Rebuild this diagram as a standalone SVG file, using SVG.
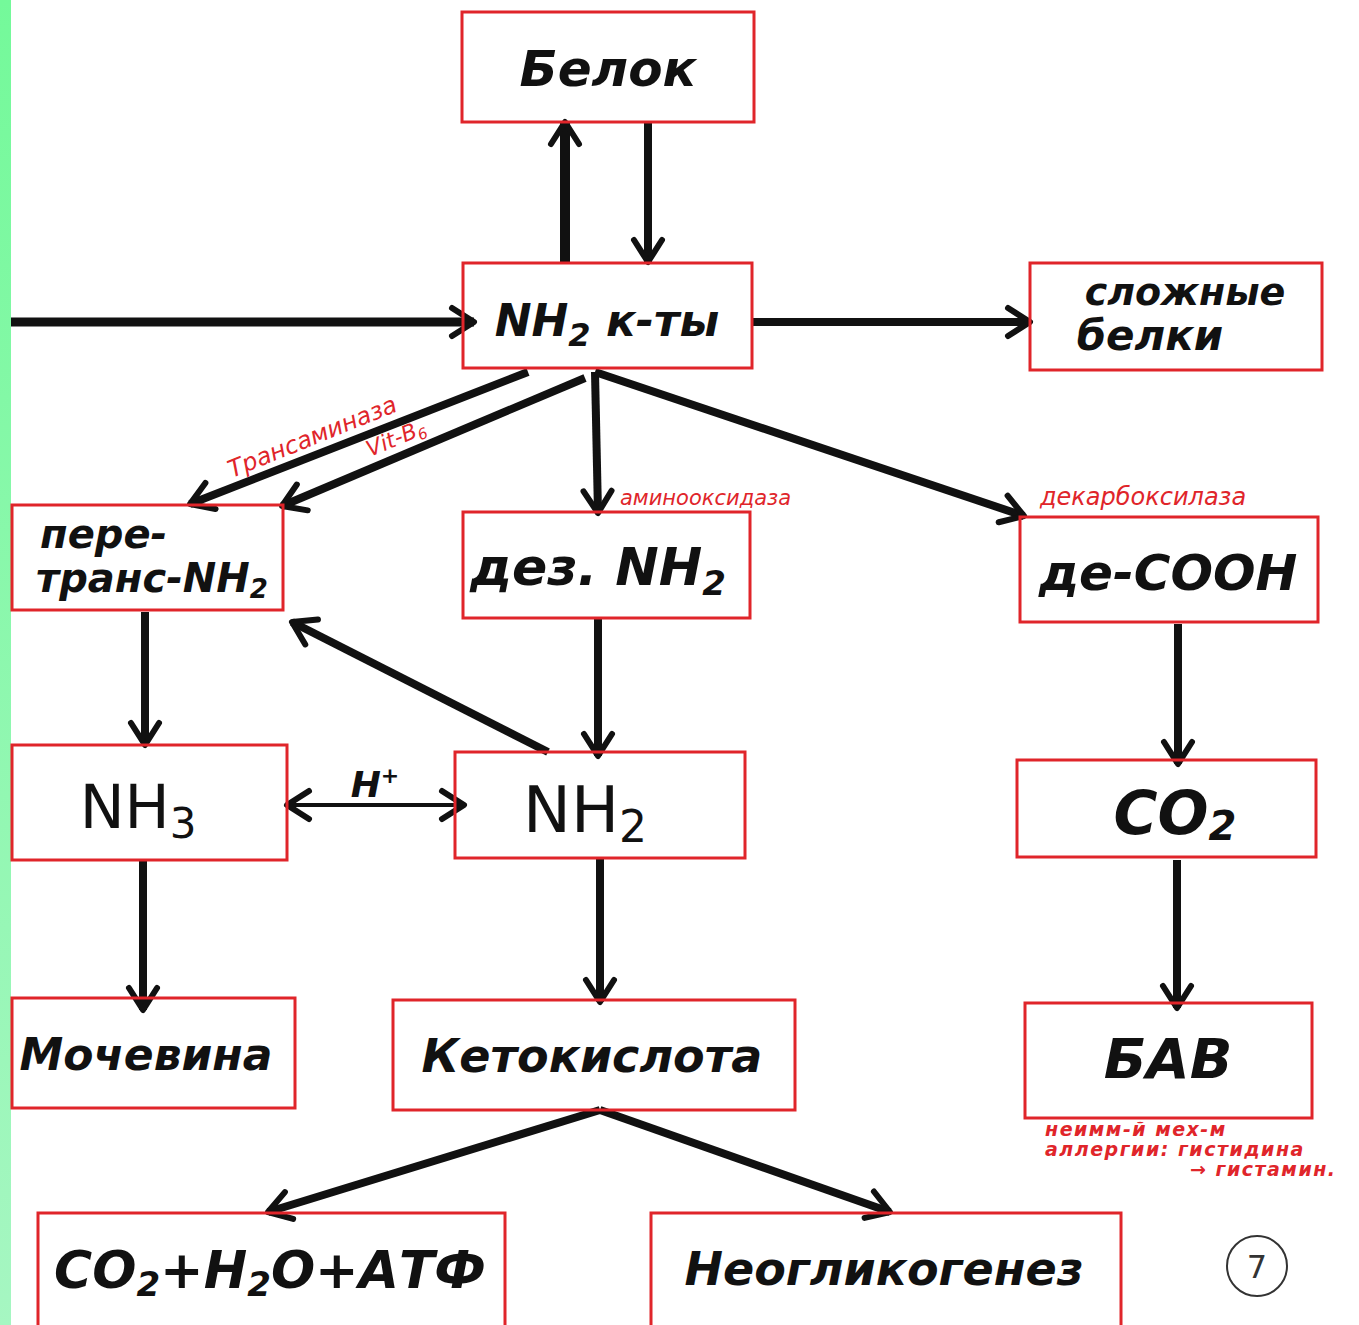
<svg xmlns="http://www.w3.org/2000/svg" width="1359" height="1325" viewBox="0 0 1359 1325">
<defs>
<linearGradient id="g" x1="0" y1="0" x2="0" y2="1"><stop offset="0" stop-color="#74f99a"/><stop offset="1" stop-color="#a6f6c2"/></linearGradient>
<marker id="ah" markerUnits="userSpaceOnUse" markerWidth="40" markerHeight="40" refX="30" refY="20" orient="auto-start-reverse" viewBox="0 0 40 40">
<path d="M8,6 L30,20 L8,34" fill="none" stroke="#111" stroke-width="6" stroke-linecap="round" stroke-linejoin="round"/>
</marker>
<style>
.box{fill:none;stroke:#e0252a;stroke-width:3}
.lbl{font-family:"DejaVu Sans",sans-serif;font-style:italic;font-weight:bold;fill:#111}
.arr{stroke:#111;stroke-width:8;fill:none;marker-end:url(#ah)}
.red{font-family:"DejaVu Sans",sans-serif;font-style:italic;fill:#e0252a}
</style>
</defs>
<rect width="1359" height="1325" fill="#fff"/>
<rect x="0" y="0" width="11" height="1325" fill="url(#g)"/>

<g id="connectors">
<line class="arr" x1="565" y1="262" x2="565" y2="122" style="stroke-width:10"/>
<line class="arr" x1="648" y1="122" x2="648" y2="262"/>
<line class="arr" x1="11" y1="322" x2="474" y2="322" style="stroke-width:9"/>
<line class="arr" x1="752" y1="322" x2="1030" y2="322"/>
<line class="arr" x1="528" y1="372" x2="190" y2="504"/>
<line class="arr" x1="585" y1="378" x2="282" y2="506"/>
<line class="arr" x1="595" y1="372" x2="598" y2="513"/>
<line class="arr" x1="595" y1="372" x2="1024" y2="516"/>
<line class="arr" x1="145" y1="612" x2="145" y2="745"/>
<line class="arr" x1="598" y1="618" x2="598" y2="756"/>
<line class="arr" x1="548" y1="752" x2="292" y2="622"/>
<line class="arr" x1="287" y1="805" x2="464" y2="805" style="stroke-width:4;marker-start:url(#ah)"/>
<line class="arr" x1="1178" y1="624" x2="1178" y2="764"/>
<line class="arr" x1="143" y1="860" x2="143" y2="1010"/>
<line class="arr" x1="600" y1="858" x2="600" y2="1002"/>
<line class="arr" x1="1177" y1="860" x2="1177" y2="1008"/>
<line class="arr" x1="600" y1="1110" x2="268" y2="1212"/>
<line class="arr" x1="600" y1="1110" x2="890" y2="1212"/>
<text class="lbl" x="375" y="797" font-size="36" text-anchor="middle">H<tspan font-size="22" dy="-14">+</tspan></text>
<text class="red" font-size="24" transform="translate(232,478) rotate(-22)">Трансаминаза</text>
<text class="red" font-size="22" transform="translate(370,457) rotate(-22.5)">Vit-B<tspan font-size="15" dy="4">6</tspan></text>
<text class="red" x="620" y="505" font-size="21">аминооксидаза</text>
<text class="red" x="1040" y="505" font-size="24">декарбоксилаза</text>
</g>

<g id="n-belok"><rect class="box" x="462" y="12" width="292" height="110"/><text class="lbl" x="608" y="86" font-size="50" text-anchor="middle">Белок</text></g>
<g id="n-amino"><rect class="box" x="463" y="263" width="289" height="105"/><text class="lbl" x="607" y="336" font-size="44" text-anchor="middle">NH<tspan font-size="32" dy="10">2</tspan><tspan dy="-10"> к-ты</tspan></text></g>
<g id="n-slozh"><rect class="box" x="1030" y="263" width="292" height="107"/><text class="lbl" x="1185" y="305" font-size="38" text-anchor="middle">сложные</text><text class="lbl" x="1150" y="350" font-size="42" text-anchor="middle">белки</text></g>
<g id="n-pere"><rect class="box" x="12" y="505" width="271" height="105"/><text class="lbl" x="40" y="548" font-size="40">пере-</text><text class="lbl" x="36" y="592" font-size="40">транс-NH<tspan font-size="26" dy="6">2</tspan></text></g>
<g id="n-dez"><rect class="box" x="463" y="512" width="287" height="106"/><text class="lbl" x="598" y="585" font-size="52" text-anchor="middle">дез. NH<tspan font-size="34" dy="10">2</tspan></text></g>
<g id="n-decooh"><rect class="box" x="1020" y="517" width="298" height="105"/><text class="lbl" x="1168" y="590" font-size="50" text-anchor="middle">де-COOH</text></g>
<g id="n-nh3"><rect class="box" x="12" y="745" width="275" height="115"/><text class="lbl" x="138" y="828" font-size="60" text-anchor="middle" style="font-style:normal;font-weight:normal">NH<tspan font-size="42" dy="10">3</tspan></text></g>
<g id="n-nh2"><rect class="box" x="455" y="752" width="290" height="106"/><text class="lbl" x="585" y="832" font-size="64" text-anchor="middle" style="font-style:normal;font-weight:normal">NH<tspan font-size="44" dy="10">2</tspan></text></g>
<g id="n-co2"><rect class="box" x="1017" y="760" width="299" height="97"/><text class="lbl" x="1175" y="834" font-size="60" text-anchor="middle">CO<tspan font-size="40" dy="6">2</tspan></text></g>
<g id="n-moch"><rect class="box" x="12" y="998" width="283" height="110"/><text class="lbl" x="146" y="1070" font-size="44" text-anchor="middle">Мочевина</text></g>
<g id="n-keto"><rect class="box" x="393" y="1000" width="402" height="110"/><text class="lbl" x="592" y="1072" font-size="46" text-anchor="middle">Кетокислота</text></g>
<g id="n-bav"><rect class="box" x="1025" y="1003" width="287" height="115"/><text class="lbl" x="1168" y="1078" font-size="56" text-anchor="middle">БАВ</text>
<text class="red" font-size="19" font-weight="bold" letter-spacing="1.5"><tspan x="1045" y="1136">неимм-й мех-м</tspan><tspan x="1045" y="1156">аллергии: гистидина</tspan><tspan x="1190" y="1176">→ гистамин.</tspan></text></g>
<g id="n-co2h2o"><rect class="box" x="38" y="1213" width="467" height="115"/><text class="lbl" x="270" y="1288" font-size="52" text-anchor="middle">CO<tspan font-size="34" dy="8">2</tspan><tspan dy="-8">+H</tspan><tspan font-size="34" dy="8">2</tspan><tspan dy="-8">O+АТФ</tspan></text></g>
<g id="n-neo"><rect class="box" x="651" y="1213" width="470" height="115"/><text class="lbl" x="884" y="1285" font-size="46" text-anchor="middle">Неогликогенез</text></g>
<g id="page"><circle cx="1257" cy="1266" r="30" fill="none" stroke="#333" stroke-width="2"/><text x="1257" y="1278" font-size="32" text-anchor="middle" font-family="DejaVu Sans,sans-serif" fill="#333">7</text></g>
</svg>
